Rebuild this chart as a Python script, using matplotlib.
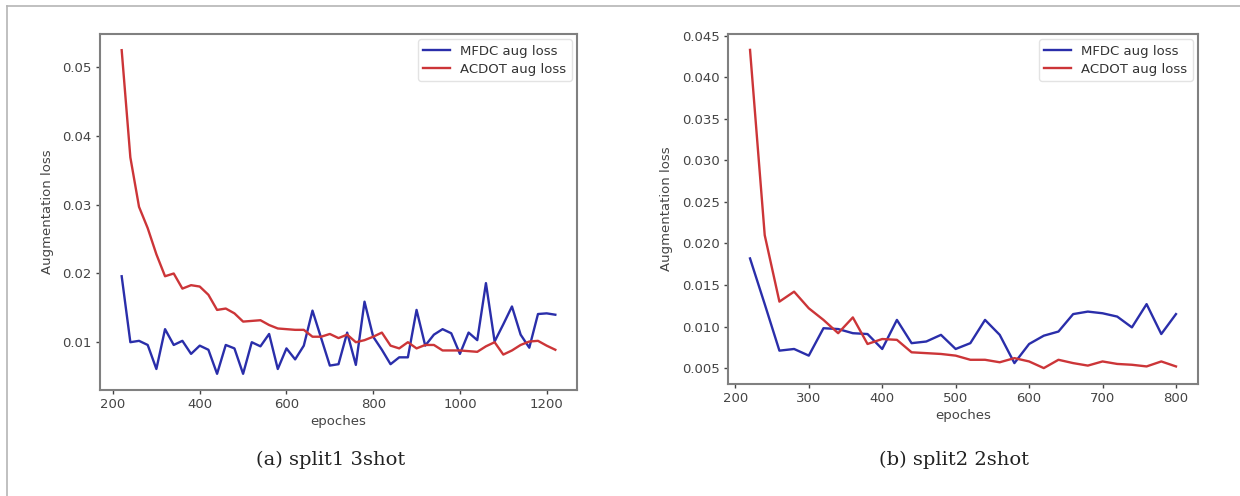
import matplotlib
matplotlib.use("Agg")
import matplotlib.pyplot as plt
from matplotlib.lines import Line2D

# ---------------- data ----------------
epochs_a = list(range(220, 1221, 20))
mfdc_a = [0.0196, 0.0100, 0.0102, 0.0096, 0.0061, 0.0119, 0.0096, 0.0102, 0.0083, 0.0095,
          0.0089, 0.0054, 0.0096, 0.0091, 0.0054, 0.0100, 0.0094, 0.0112, 0.0061, 0.0091,
          0.0075, 0.0095, 0.0146, 0.0106, 0.0066, 0.0068, 0.0114, 0.0067, 0.0159, 0.0108,
          0.0089, 0.0068, 0.0078, 0.0078, 0.0147, 0.0095, 0.0111, 0.0119, 0.0113, 0.0083,
          0.0114, 0.0103, 0.0186, 0.0101, 0.0126, 0.0152, 0.0111, 0.0092, 0.0141, 0.0142,
          0.0140]
acdot_a = [0.0525, 0.0369, 0.0297, 0.0266, 0.0228, 0.0196, 0.0200, 0.0178, 0.0183, 0.0181,
           0.0169, 0.0147, 0.0149, 0.0142, 0.0130, 0.0131, 0.0132, 0.0125, 0.0120, 0.0119,
           0.0118, 0.0118, 0.0108, 0.0108, 0.0112, 0.0106, 0.0111, 0.0100, 0.0103, 0.0108,
           0.0114, 0.0095, 0.0091, 0.0100, 0.0091, 0.0096, 0.0096, 0.0088, 0.0088, 0.0088,
           0.0087, 0.0086, 0.0094, 0.0100, 0.0082, 0.0088, 0.0096, 0.0101, 0.0102, 0.0095,
           0.0089]

epochs_b = list(range(220, 801, 20))
mfdc_b = [0.0182, 0.0127, 0.0071, 0.0073, 0.0065, 0.0098, 0.0097, 0.0092, 0.0091, 0.0073,
          0.0108, 0.0080, 0.0082, 0.0090, 0.0073, 0.0080, 0.0108, 0.0090, 0.0056, 0.0079,
          0.0089, 0.0094, 0.0115, 0.0118, 0.0116, 0.0112, 0.0099, 0.0127, 0.0091, 0.0115]
acdot_b = [0.0433, 0.0210, 0.0130, 0.0142, 0.0122, 0.0108, 0.0092, 0.0111, 0.0079, 0.0085,
           0.0084, 0.0069, 0.0068, 0.0067, 0.0065, 0.0060, 0.0060, 0.0057, 0.0062, 0.0058,
           0.0050, 0.0060, 0.0056, 0.0053, 0.0058, 0.0055, 0.0054, 0.0052, 0.0058, 0.0052]

yticks_a = [0.01, 0.02, 0.03, 0.04, 0.05]
xticks_a = [200, 400, 600, 800, 1000, 1200]
yticks_b = [0.005, 0.010, 0.015, 0.020, 0.025, 0.030, 0.035, 0.040, 0.045]
xticks_b = [200, 300, 400, 500, 600, 700, 800]

series_labels = ["MFDC aug loss", "ACDOT aug loss"]
captions = ["(a) split1 3shot", "(b) split2 2shot"]
xlabel = "epoches"
ylabel = "Augmentation loss"

# ---------------- style ----------------
BLUE = "#2a2eaa"
RED = "#cc3538"
TXT = "#444444"
SPINE = "#808080"

W, H = 1240, 496
fig = plt.figure(figsize=(W / 100, H / 100), dpi=100)
fig.patch.set_facecolor("white")

def px_axes(left, top, right, bottom):
    return fig.add_axes([left / W, 1 - bottom / H, (right - left) / W, (bottom - top) / H])

ax_a = px_axes(100, 34, 577, 390)
ax_b = px_axes(728, 34, 1198, 384)

panels = [
    (ax_a, epochs_a, mfdc_a, acdot_a, xticks_a, yticks_a, "{:.2f}"),
    (ax_b, epochs_b, mfdc_b, acdot_b, xticks_b, yticks_b, "{:.3f}"),
]

for ax, ep, m, a, xt, yt, fmt in panels:
    ax.plot(ep, m, color=BLUE, lw=1.7, label=series_labels[0])
    ax.plot(ep, a, color=RED, lw=1.7, label=series_labels[1])
    ax.set_xticks(xt)
    ax.set_yticks(yt)
    ax.set_yticklabels([fmt.format(v) for v in yt])
    ax.tick_params(labelsize=9.5, colors=TXT, length=3, width=1, pad=3)
    for s in ax.spines.values():
        s.set_color(SPINE)
        s.set_linewidth(1.5)
    ax.set_xlabel(xlabel, fontsize=9.5, color=TXT, labelpad=3)
    ax.set_ylabel(ylabel, fontsize=9.5, color=TXT, labelpad=6)
    leg = ax.legend(loc="upper right", fontsize=9.5, frameon=True, handlelength=2.0,
                    borderaxespad=0.4, labelspacing=0.4)
    leg.get_frame().set_edgecolor("#dddddd")
    for t in leg.get_texts():
        t.set_color("#333333")

ax_a.set_xlim(170, 1270)
ax_b.set_xlim(190, 830)

# captions
fig.text(331 / W, 1 - 460 / H, captions[0], ha="center", va="center",
         fontsize=14, family="DejaVu Serif", color="#222222")
fig.text(954 / W, 1 - 460 / H, captions[1], ha="center", va="center",
         fontsize=14, family="DejaVu Serif", color="#222222")

# outer frame lines (top and left)
fig.add_artist(Line2D([7 / W, 1], [1 - 6 / H, 1 - 6 / H], color="#b5b5b5", lw=1.2,
                      transform=fig.transFigure))
fig.add_artist(Line2D([7 / W, 7 / W], [0, 1 - 6 / H], color="#b5b5b5", lw=1.2,
                      transform=fig.transFigure))

fig.savefig("out.png", dpi=100)
